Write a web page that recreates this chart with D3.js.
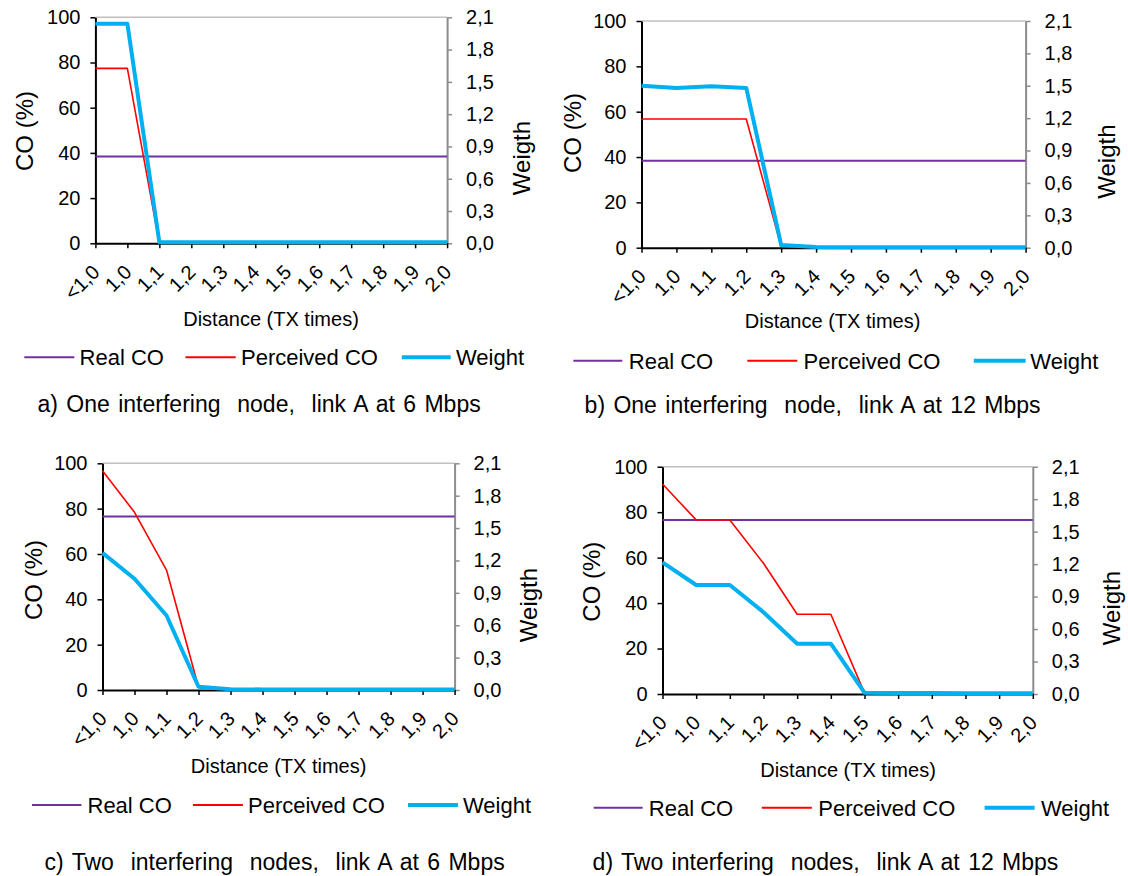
<!DOCTYPE html>
<html>
<head>
<meta charset="utf-8">
<script src="https://cdn.jsdelivr.net/npm/d3@7"></script>
<style>
  html, body { margin: 0; padding: 0; background: #fff; }
  svg { display: block; font-family: "Liberation Sans", Arial, sans-serif; }
</style>
</head>
<body>
<svg id="chart" width="1128" height="876"></svg>
<script>
// Distance categories (multiples of the transmission range)
const distances = ["<1,0", "1,0", "1,1", "1,2", "1,3", "1,4", "1,5", "1,6", "1,7", "1,8", "1,9", "2,0"];
const coTicks = [0, 20, 40, 60, 80, 100];
const weightTicks = [0, 0.3, 0.6, 0.9, 1.2, 1.5, 1.8, 2.1];

// a) One interfering node, link A at 6 Mbps
const realCoA      = [38.4, 38.4, 38.4, 38.4, 38.4, 38.4, 38.4, 38.4, 38.4, 38.4, 38.4, 38.4];
const perceivedCoA = [77.4, 77.4, 0, 0, 0, 0, 0, 0, 0, 0, 0, 0];
const weightA      = [2.04, 2.04, 0.01, 0.01, 0.01, 0.01, 0.01, 0.01, 0.01, 0.01, 0.01, 0.01];

// b) One interfering node, link A at 12 Mbps
const realCoB      = [38.4, 38.4, 38.4, 38.4, 38.4, 38.4, 38.4, 38.4, 38.4, 38.4, 38.4, 38.4];
const perceivedCoB = [56.8, 56.8, 56.8, 56.8, 0.5, 0, 0, 0, 0, 0, 0, 0];
const weightB      = [1.50, 1.48, 1.495, 1.48, 0.025, 0.006, 0.005, 0.005, 0.005, 0.005, 0.005, 0.005];

// c) Two interfering nodes, link A at 6 Mbps
const realCoC      = [76.5, 76.5, 76.5, 76.5, 76.5, 76.5, 76.5, 76.5, 76.5, 76.5, 76.5, 76.5];
const perceivedCoC = [96.7, 78.4, 52.9, 1.2, 0.3, 0, 0, 0, 0, 0, 0, 0];
const weightC      = [1.27, 1.03, 0.69, 0.03, 0.008, 0.005, 0.005, 0.005, 0.005, 0.005, 0.005, 0.005];

// d) Two interfering nodes, link A at 12 Mbps
const realCoD      = [76.6, 76.6, 76.6, 76.6, 76.6, 76.6, 76.6, 76.6, 76.6, 76.6, 76.6, 76.6];
const perceivedCoD = [92.4, 76.6, 76.6, 57.5, 35.1, 35.1, 0.5, 0, 0, 0, 0, 0];
const weightD      = [1.216, 1.007, 1.007, 0.755, 0.465, 0.465, 0.012, 0.01, 0.01, 0.006, 0.006, 0.006];

const seriesNames = ["Real CO", "Perceived CO", "Weight"];
const captions = [
  "a) One interfering  node,  link A at 6 Mbps",
  "b) One interfering  node,  link A at 12 Mbps",
  "c) Two  interfering  nodes,  link A at 6 Mbps",
  "d) Two interfering  nodes,  link A at 12 Mbps"
];

const COLORS = { real: "#7030A0", perceived: "#FF0000", weight: "#00B0F0" };

// Layout of each of the four panels
const panels = [
  { left: 95.4, right: 447.1, top: 17.3, bottom: 243.3,
    real: realCoA, perceived: perceivedCoA, weight: weightA,
    coTitle: [24.6, 131], wTitle: [521.7, 158], xTitle: [271, 326],
    legendY: 357.3, legendX: [[24.3, 74.3, 79.6], [185.4, 235.7, 241], [401.8, 450.7, 456]],
    caption: [37.5, 412], captionText: captions[0] },
  { left: 641.5, right: 1025.6, top: 21, bottom: 247.7,
    real: realCoB, perceived: perceivedCoB, weight: weightB,
    coTitle: [572, 133], wTitle: [1106, 161.6], xTitle: [832.6, 328],
    legendY: 360.7, legendX: [[573.4, 622.3, 628.8], [747.3, 797.3, 803.5], [973.8, 1025.6, 1030.3]],
    caption: [584.6, 413], captionText: captions[1] },
  { left: 102.5, right: 454.6, top: 463.3, bottom: 690,
    real: realCoC, perceived: perceivedCoC, weight: weightC,
    coTitle: [33, 580], wTitle: [528.6, 605], xTitle: [278.6, 773],
    legendY: 805, legendX: [[32, 81.4, 87.5], [192.9, 242.9, 248], [408, 458, 463]],
    caption: [44.6, 870], captionText: captions[2] },
  { left: 662.5, right: 1032.8, top: 466.7, bottom: 694,
    real: realCoD, perceived: perceivedCoD, weight: weightD,
    coTitle: [591.7, 581.7], wTitle: [1111.6, 608], xTitle: [848, 777],
    legendY: 807.7, legendX: [[593.7, 642.6, 648.8], [761.8, 811.8, 818.3], [984.6, 1034.6, 1041]],
    caption: [592.6, 870], captionText: captions[3] }
];

const svg = d3.select("#chart");
const fmtWeight = d => d.toFixed(1).replace(".", ",");
const FONT = "Liberation Sans, Arial, sans-serif";

function drawPanel(p) {
  const g = svg.append("g");
  const x = d3.scalePoint().domain(distances).range([p.left, p.right]);
  const yCo = d3.scaleLinear().domain([0, 100]).range([p.bottom, p.top]);
  const yW = d3.scaleLinear().domain([0, 2.1]).range([p.bottom, p.top]);

  // plot area top border
  g.append("line")
    .attr("x1", p.left).attr("x2", p.right)
    .attr("y1", p.top).attr("y2", p.top)
    .attr("stroke", "#c0c0c0").attr("stroke-width", 1.5);

  // secondary (weight) axis on the right
  const rAxis = g.append("g")
    .attr("transform", `translate(${p.right},0)`)
    .call(d3.axisRight(yW).tickValues(weightTicks).tickFormat(fmtWeight)
      .tickSize(5).tickSizeOuter(0).tickPadding(14));
  rAxis.select(".domain").attr("stroke", "#8c8c8c").attr("stroke-width", 2);
  rAxis.selectAll(".tick line").attr("stroke", "#8c8c8c").attr("stroke-width", 1.5);
  rAxis.selectAll(".tick text").attr("fill", "#000").attr("font-size", 20)
    .attr("font-family", FONT);

  // primary (CO %) axis on the left
  const lAxis = g.append("g")
    .attr("transform", `translate(${p.left},0)`)
    .call(d3.axisLeft(yCo).tickValues(coTicks).tickSize(5).tickSizeOuter(0).tickPadding(10));
  lAxis.select(".domain").attr("stroke", "#000").attr("stroke-width", 2);
  lAxis.selectAll(".tick line").attr("stroke", "#000").attr("stroke-width", 1.5);
  lAxis.selectAll(".tick text").attr("fill", "#000").attr("font-size", 20)
    .attr("font-family", FONT);

  // category axis at the bottom with slanted labels
  const bAxis = g.append("g")
    .attr("transform", `translate(0,${p.bottom})`)
    .call(d3.axisBottom(x).tickSize(5).tickSizeOuter(0));
  bAxis.select(".domain").attr("stroke", "#000").attr("stroke-width", 2);
  bAxis.selectAll(".tick line").attr("stroke", "#000").attr("stroke-width", 1.5);
  bAxis.selectAll(".tick text")
    .attr("fill", "#000").attr("font-size", 20)
    .attr("font-family", FONT)
    .attr("text-anchor", "end")
    .attr("x", 5).attr("y", 30).attr("dy", null)
    .attr("transform", "rotate(-45,5,30)");

  // series lines
  const lineCo = d3.line().x((d, i) => x(distances[i])).y(d => yCo(d));
  const lineW = d3.line().x((d, i) => x(distances[i])).y(d => yW(d));
  g.append("path").datum(p.real).attr("d", lineCo)
    .attr("fill", "none").attr("stroke", COLORS.real).attr("stroke-width", 2);
  g.append("path").datum(p.perceived).attr("d", lineCo)
    .attr("fill", "none").attr("stroke", COLORS.perceived).attr("stroke-width", 1.6)
    .attr("stroke-linejoin", "round");
  g.append("path").datum(p.weight).attr("d", lineW)
    .attr("fill", "none").attr("stroke", COLORS.weight).attr("stroke-width", 4)
    .attr("stroke-linejoin", "round");

  // axis titles
  g.append("text")
    .attr("transform", `translate(${p.coTitle[0]},${p.coTitle[1]}) rotate(-90)`)
    .attr("text-anchor", "middle").attr("dominant-baseline", "central")
    .attr("font-size", 24).text("CO (%)");
  g.append("text")
    .attr("transform", `translate(${p.wTitle[0]},${p.wTitle[1]}) rotate(-90)`)
    .attr("text-anchor", "middle").attr("dominant-baseline", "central")
    .attr("font-size", 24).text("Weigth");
  g.append("text")
    .attr("x", p.xTitle[0]).attr("y", p.xTitle[1])
    .attr("text-anchor", "middle").attr("font-size", 20)
    .text("Distance (TX times)");

  // legend
  const legendColors = [COLORS.real, COLORS.perceived, COLORS.weight];
  const legendWidths = [2, 2, 4];
  p.legendX.forEach((lx, i) => {
    g.append("line")
      .attr("x1", lx[0]).attr("x2", lx[1])
      .attr("y1", p.legendY).attr("y2", p.legendY)
      .attr("stroke", legendColors[i]).attr("stroke-width", legendWidths[i]);
    g.append("text")
      .attr("x", lx[2]).attr("y", p.legendY + 8)
      .attr("font-size", 22).text(seriesNames[i]);
  });

  // caption
  g.append("text")
    .attr("x", p.caption[0]).attr("y", p.caption[1])
    .attr("font-size", 23)
    .style("white-space", "pre").attr("xml:space", "preserve")
    .style("word-spacing", "2px")
    .text(p.captionText);
}

panels.forEach(drawPanel);
</script>
</body>
</html>
